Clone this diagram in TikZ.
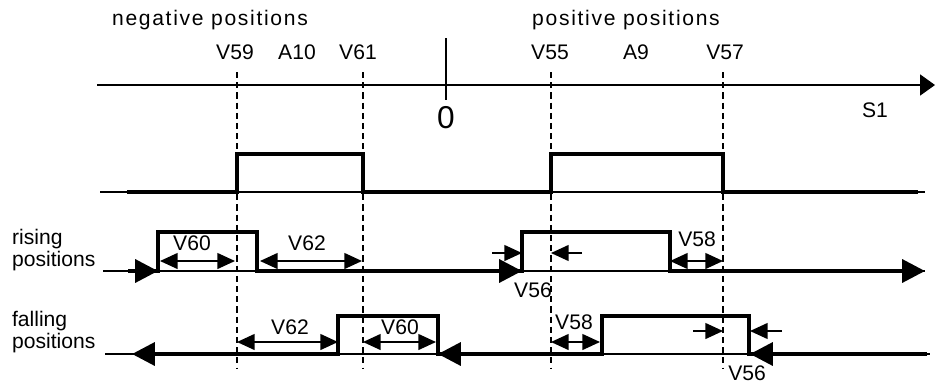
\documentclass[tikz,border=0pt]{standalone}
\usepackage{fontspec}
\setmainfont{Liberation Sans}
\newfontfamily\widefont[LetterSpace=8]{Liberation Sans}
\usetikzlibrary{arrows.meta}
\tikzset{thinline/.style={line width=0.6pt},
 axisline/.style={line width=0.7pt,-{Triangle[length=8.5pt,width=12pt]}},
 signal/.style={line width=2.2pt,line join=miter},
 guide/.style={line width=0.6pt,dash pattern=on 3.5pt off 2.3pt},
 dim/.style={line width=0.85pt,{Triangle[length=10pt,width=9pt]}-{Triangle[length=10pt,width=9pt]}},
 halfdim/.style={line width=0.85pt,-{Triangle[length=10pt,width=9pt]}},
 dirtip/.style={-{Triangle[length=13pt,width=13pt]}},
 every node/.style={font=\fontsize{12}{13}\selectfont,inner sep=1pt}}

\begin{document}
\begin{tikzpicture}[x=0.02cm,y=-0.02cm]
\useasboundingbox (0,0) rectangle (940,383);
\draw[axisline] (97,85) -- (935,85);
\draw[thinline] (446,38) -- (446,100);
\node (zero) at (446,118) {\fontsize{18}{20}\selectfont 0};
\node (S1) at (875,110) {S1};
\node (neg) at (210,20) {\widefont negative positions};
\node (pos) at (626,20) {\widefont positive positions};
\foreach \x/\lx/\name in {237/235/V59,363/358/V61,551/550/V55,723/725/V57} {
 \node (\name) at (\lx,52) {\name};
 \draw[guide] (\x,72) -- (\x,368);
}
\node (A10) at (297,52) {A10};
\node (A9) at (636,52) {A9};
\draw[thinline] (100,192) -- (925,192);
\draw[signal] (127,192) -- (237,192) -- (237,154) -- (363,154) -- (363,192) -- (551,192) -- (551,154) -- (723,154) -- (723,192) -- (918,192);
\node[align=left,anchor=west] (rising) at (10,250) {rising\\positions};
\draw[thinline] (103,271) -- (925,271);
\draw[signal] (128,271) -- (158,271) -- (158,232) -- (257,232) -- (257,271) -- (522,271) -- (522,232) -- (670,232) -- (670,271) -- (905,271);
\foreach \x in {158,522,925} \draw[signal,dirtip] (\x-25,271) -- (\x,271);
\draw[dim] (160,261) -- (235,261);
\draw[dim] (260,261) -- (362,261);
\draw[dim] (670,261) -- (723,261);
\draw[halfdim] (492,253) -- (522,253);
\draw[halfdim] (582,253) -- (551,253);
\node (rV60) at (192,243) {V60};
\node (rV62) at (307,243) {V62};
\node (rV58) at (697,239) {V58};
\node (rV56) at (533,290) {V56};
\node[align=left,anchor=west] (falling) at (10,332) {falling\\positions};
\draw[thinline] (105,354) -- (930,354);
\draw[signal] (927,354) -- (749,354) -- (749,316) -- (602,316) -- (602,354) -- (438,354) -- (438,316) -- (338,316) -- (338,354) -- (150,354);
\foreach \x in {132,438,750} \draw[signal,dirtip] (\x+25,354) -- (\x,354);
\draw[dim] (237,342) -- (338,342);
\draw[dim] (363,342) -- (436,342);
\draw[dim] (551,342) -- (600,342);
\draw[halfdim] (693,331) -- (723,331);
\draw[halfdim] (782,331) -- (750,331);
\node (fV62) at (290,327) {V62};
\node (fV60) at (400,327) {V60};
\node (fV58) at (574,322) {V58};
\node (fV56) at (747,373) {V56};
\end{tikzpicture}
\end{document}
